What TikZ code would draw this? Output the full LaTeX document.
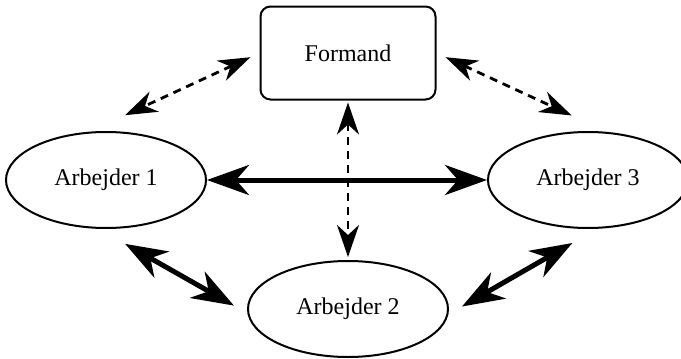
\documentclass[tikz,border=0pt]{standalone}
\usepackage{fontspec}
\setmainfont{Liberation Serif}
\usetikzlibrary{arrows.meta,shapes.geometric}

\begin{document}
\begin{tikzpicture}[x=1pt, y=-1pt, every node/.style={draw, line width=2pt, font=\fontsize{24}{28}\selectfont}, worker/.style={ellipse, minimum width=200pt, minimum height=96pt}, boss/.style={rectangle, rounded corners=10pt, minimum width=175pt, minimum height=93pt}, link/.style={line width=5pt, {Stealth[length=42pt, width=30pt, inset=13pt]}-{Stealth[length=42pt, width=30pt, inset=13pt]}}, talk/.style={line width=2.8pt, dash pattern=on 8pt off 6pt, {Stealth[length=32pt, width=22pt, inset=10pt]}-{Stealth[length=32pt, width=22pt, inset=10pt]}}]
    \useasboundingbox (0,0) rectangle (681,359);
    \node[boss] (formand) at (348,53) {Formand};
    \node[worker] (arb1) at (106,180) {Arbejder 1};
    \node[worker] (arb2) at (348,309) {Arbejder 2};
    \node[worker] (arb3) at (588,180) {Arbejder 3};

    \draw[talk, shorten <=10pt, shorten >=21pt] (formand.west) -- ([yshift=7pt]arb1.north);
    \draw[talk, shorten <=10pt, shorten >=18pt] (formand.east) -- ([yshift=8pt]arb3.north);
    \draw[talk, shorten <=2pt, shorten >=3pt] (formand) -- (arb2);
    \draw[link] (arb1) -- (arb3);
    \draw[link, shorten <=22pt, shorten >=15pt] ([yshift=-4pt]arb1.south) -- ([yshift=-4pt]arb2.west);
    \draw[link, shorten <=15pt, shorten >=18pt] ([yshift=-5pt]arb2.east) -- ([yshift=-5pt]arb3.south);
\end{tikzpicture}
\end{document}
